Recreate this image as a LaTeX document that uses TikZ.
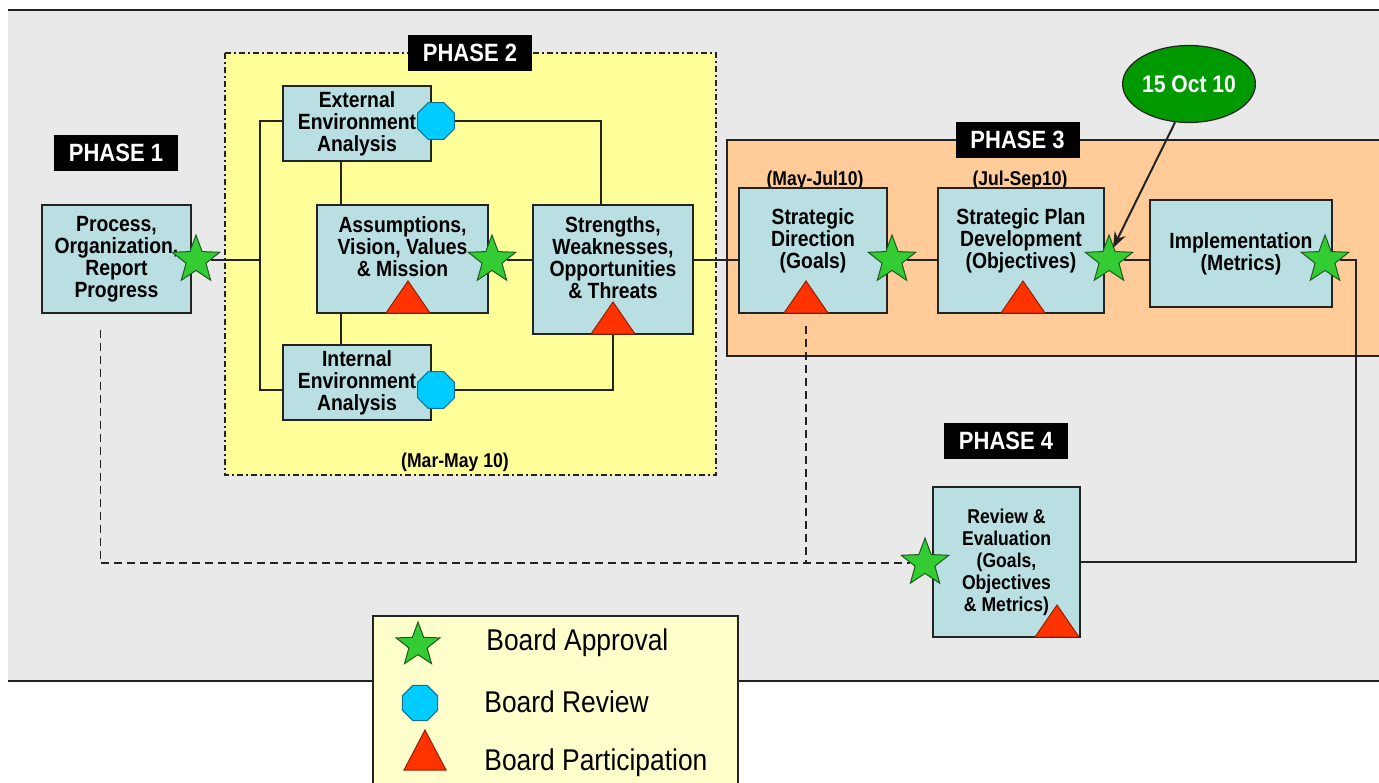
\documentclass[tikz,border=0pt]{standalone}
\usepackage{fontspec}
\setmainfont{Liberation Sans}
\newfontfamily\narrowsans[FakeStretch=0.88]{Liberation Sans}
\usepackage{tikz}
\usetikzlibrary{calc,arrows.meta,positioning,shapes.geometric}
\definecolor{bgGray}{RGB}{233,233,233}
\definecolor{phaseYellow}{RGB}{255,255,153}
\definecolor{phaseOrange}{RGB}{255,204,153}
\definecolor{legendYellow}{RGB}{255,255,204}
\definecolor{boxBlue}{RGB}{185,223,227}
\definecolor{starGreen}{RGB}{51,204,51}
\definecolor{starEdge}{RGB}{30,90,30}
\definecolor{octCyan}{RGB}{0,204,255}
\definecolor{octEdge}{RGB}{20,110,140}
\definecolor{triRed}{RGB}{255,51,0}
\definecolor{triEdge}{RGB}{150,30,0}
\definecolor{dateGreen}{RGB}{0,153,0}
\definecolor{lineDark}{RGB}{35,35,35}

\begin{document}
\begin{tikzpicture}[x=0.5pt, y=-0.5pt,
  box/.style={draw=lineDark, line width=0.8pt, fill=boxBlue, align=center, inner sep=1pt,
    font=\narrowsans\bfseries\fontsize{11}{11}\selectfont},
  phaselabel/.style={fill=black, text=white, minimum width=62pt, minimum height=18pt, inner sep=0pt,
    font=\narrowsans\bfseries\fontsize{12.5}{14}\selectfont},
  datetag/.style={inner sep=1pt, font=\narrowsans\bfseries\fontsize{10}{12}\selectfont},
  dateoval/.style={ellipse, fill=dateGreen, draw=lineDark, line width=0.6pt, text=white,
    minimum width=62pt, minimum height=38.5pt, inner sep=0pt,
    font=\narrowsans\bfseries\fontsize{12}{14}\selectfont},
  approval/.style={star, star points=5, star point ratio=2.4, fill=starGreen, draw=starEdge,
    line width=0.5pt, minimum size=25pt, inner sep=0pt},
  reviewmark/.style={regular polygon, regular polygon sides=8, fill=octCyan, draw=octEdge,
    line width=0.5pt, minimum size=20pt, inner sep=0pt},
  particip/.style={fill=triRed, draw=triEdge, line width=0.5pt},
  link/.style={draw=lineDark, line width=0.7pt},
  feedback/.style={link, dash pattern=on 4pt off 2.5pt},
  legendtext/.style={anchor=west, inner sep=0pt, font=\narrowsans\fontsize{15}{18}\selectfont}
]
\useasboundingbox (0,0) rectangle (1379,782);
\fill[white] (0,0) rectangle (1379,782);

% background and phase areas
\fill[bgGray] (8,10) rectangle (1379,681);
\draw[lineDark, line width=0.8pt] (8,10) -- (1379,10);
\draw[lineDark, line width=0.8pt] (8,681) -- (1379,681);
\filldraw[fill=phaseYellow, draw=lineDark, line width=0.6pt,
  dash pattern=on 3pt off 1.5pt on 1pt off 1.5pt] (225,53) rectangle (716,475);
\fill[phaseOrange] (727,140) rectangle (1379,356);
\draw[lineDark, line width=0.8pt] (1379,140) -| (727,356) -- (1379,356);

\node[phaselabel] (ph1) at (116,152.5) {PHASE 1};
\node[phaselabel] (ph2) at (470,52.5) {PHASE 2};
\node[phaselabel] (ph3) at (1017.5,139.5) {PHASE 3};
\node[phaselabel] (ph4) at (1006,440.5) {PHASE 4};

\node[datetag] (d2) at (455,462) {(Mar-May 10)};
\node[datetag] (d3a) at (815,180) {(May-Jul10)};
\node[datetag] (d3b) at (1020,180) {(Jul-Sep10)};

% boxes
\node[box, minimum width=74.5pt, minimum height=54pt] (proc) at (116.5,259)
  {Process,\\Organization,\\Report\\Progress};
\node[box, minimum width=74pt, minimum height=37.5pt] (ext) at (357,123.5)
  {External\\Environment\\Analysis};
\node[box, minimum width=74pt, minimum height=37.5pt] (int) at (357,382.5)
  {Internal\\Environment\\Analysis};
\node[box, minimum width=85.5pt, minimum height=54pt] (assume) at (402.5,259)
  {Assumptions,\\Vision, Values\\\& Mission\\[1pt]\mbox{}};
\node[box, minimum width=80pt, minimum height=64.5pt] (swot) at (613,269.5)
  {Strengths,\\Weaknesses,\\Opportunities\\\& Threats\\[1pt]\mbox{}};
\node[box, minimum width=74pt, minimum height=62.5pt] (sdir) at (813,250.5)
  {Strategic\\Direction\\(Goals)\\[1pt]\mbox{}};
\node[box, minimum width=83pt, minimum height=62.5pt] (splan) at (1021,250.5)
  {Strategic Plan\\Development\\(Objectives)\\[1pt]\mbox{}};
\node[box, minimum width=91pt, minimum height=53.5pt] (impl) at (1241,253.5)
  {Implementation\\(Metrics)};
\node[box, minimum width=73.5pt, minimum height=75pt,
  font=\narrowsans\bfseries\fontsize{10}{11}\selectfont] (review) at (1006.5,562)
  {Review \&\\Evaluation\\(Goals,\\Objectives\\\& Metrics)};

\node[dateoval] (date) at (1189,84) {15 Oct 10};

% markers
\node[approval] (s1) at (196,260) {};
\node[approval] (s2) at (492,260) {};
\node[approval] (s3) at (892,260) {};
\node[approval] (s4) at (1109,260) {};
\node[approval] (s5) at (1325,260) {};
\node[approval] (s6) at (925,563) {};
\node[reviewmark] (o1) at (436,121) {};
\node[reviewmark] (o2) at (436,390) {};
\foreach \x/\y in {408/313,613/334,806/313,1023/313,1057/637}
{
\filldraw[particip] (\x-22,\y) -- (\x+22,\y) -- (\x,\y-32) -- cycle;
}

% connectors
\coordinate (bus) at (260,260);
\coordinate (turn) at (1356,260);
\draw[link] (s1.east) -- (bus);
\draw[link] (o1 -| ext.west) -| (bus) |- (o2 -| int.west);
\draw[link] ([xshift=-8pt]ext.south) -- ([xshift=-8pt]ext.south |- assume.north);
\draw[link] ([xshift=-8pt]int.north) -- ([xshift=-8pt]int.north |- assume.south);
\draw[link] (o1.east) -| ([xshift=-6pt]swot.north);
\draw[link] (o2.east) -| (swot.south);
\draw[link] (s2.east) -- (s2 -| swot.west);
\draw[link] (s2 -| swot.east) -- (s2 -| sdir.west);
\draw[link] (s3.east) -- (s3 -| splan.west);
\draw[link] (s4.east) -- (s4 -| impl.west);
\draw[link] (s5.east) -- (turn) |- (review.east);
\draw[feedback] ([xshift=-8pt,yshift=-8pt]proc.south) |- (s6.west);
\draw[feedback] ([xshift=-3.5pt,yshift=-6pt]sdir.south) -- ([xshift=-3.5pt]sdir.south |- s6);
\draw[-{Stealth[length=8pt,width=6pt]}, line width=1pt, lineDark] (date.250) -- ([xshift=2pt,yshift=6pt]s4.center);

% legend
\filldraw[fill=legendYellow, draw=lineDark, line width=0.8pt] (373,790) |- (738,616) -- (738,790);
\node[approval, minimum size=23pt] (ka) at (418,645) {};
\node[reviewmark, minimum size=19pt] (kr) at (420,703) {};
\filldraw[particip] (404,770) -- (446,770) -- (425,730) -- cycle;
\node[legendtext] (ta) at (486,643) {Board Approval};
\node[legendtext] (tr) at (484,702) {Board Review};
\node[legendtext] (tp) at (484,763) {Board Participation};
\end{tikzpicture}
\end{document}
